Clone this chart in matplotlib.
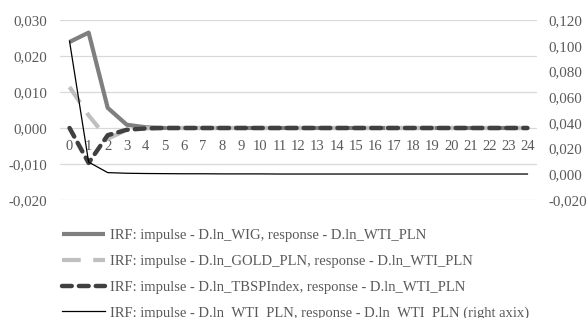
import numpy as np
import matplotlib
matplotlib.use('Agg')
import matplotlib.pyplot as plt
from matplotlib.ticker import FuncFormatter, MultipleLocator

plt.rcParams['font.family'] = ['Liberation Serif', 'DejaVu Serif']

# dane
periods = list(range(25))
irf_wig = [0.0239, 0.0265, 0.0056, 0.0009, 0.0002] + [0.0] * 20
irf_gold = [0.0114, 0.0035, -0.0030, -0.0005, -0.0001] + [0.0] * 20
irf_tbsp = [0.0, -0.0097, -0.0020, -0.0005, -0.0001] + [0.0] * 20
irf_wti = [0.1035, 0.0095, 0.0013, 0.0008, 0.0006, 0.0005, 0.0004, 0.0004,
           0.0003, 0.0003, 0.0003, 0.0002, 0.0002, 0.0002, 0.0002, 0.0002,
           0.0002, 0.0002, 0.0002, 0.0002, 0.0002, 0.0002, 0.0002, 0.0002, 0.0002]

labels = ['IRF: impulse - D.ln_WIG, response - D.ln_WTI_PLN',
          'IRF: impulse - D.ln_GOLD_PLN, response - D.ln_WTI_PLN',
          'IRF: impulse - D.ln_TBSPIndex, response - D.ln_WTI_PLN',
          'IRF: impulse - D.ln_WTI_PLN, response - D.ln_WTI_PLN (right axix)']

W, H = 588, 318
txt = '#595959'
fig = plt.figure(figsize=(W / 100, H / 100), dpi=100)
ax = fig.add_axes([60 / W, 1 - 200 / H, 477 / W, 180 / H])
ax2 = ax.twinx()

comma = FuncFormatter(lambda v, p: f'{v:.3f}'.replace('.', ','))

l1, = ax.plot(periods, irf_wig, color='#7f7f7f', lw=3, solid_capstyle='butt', zorder=3)
l2, = ax.plot(periods, irf_gold, color='#bfbfbf', lw=3, dashes=(4.5, 3), zorder=3)
l3, = ax.plot(periods, irf_tbsp, color='#404040', lw=3.2, dashes=(2.2, 1.6),
              dash_capstyle='round', zorder=4)
l4, = ax2.plot(periods, irf_wti, color='black', lw=0.9)

ax.set_xlim(-0.5, 24.5)
ax.set_ylim(-0.02, 0.03)
ax.yaxis.set_major_locator(MultipleLocator(0.01))
ax.yaxis.set_major_formatter(comma)
ax.grid(axis='y', color='#d9d9d9', lw=0.9)
ax.set_axisbelow(True)
ax.set_xticks(periods)
ax.spines['bottom'].set_position(('data', 0))
for s in ax.spines.values():
    s.set_visible(False)
ax.tick_params(axis='x', length=0, pad=9, labelsize=10.5, labelcolor=txt)
ax.tick_params(axis='y', length=0, pad=9, labelsize=10.8, labelcolor=txt)

ax2.set_ylim(-0.02, 0.12)
ax2.yaxis.set_major_locator(MultipleLocator(0.02))
ax2.yaxis.set_major_formatter(comma)
for s in ax2.spines.values():
    s.set_visible(False)
ax2.tick_params(axis='y', length=0, pad=8, labelsize=10.8, labelcolor=txt)

leg = fig.legend([l1, l2, l3, l4], labels, loc='upper left',
                 bbox_to_anchor=(54.7 / W, 1 - 222 / H), frameon=False,
                 fontsize=10.5, handlelength=2.95, handletextpad=0.34,
                 labelspacing=0.85, borderpad=0, labelcolor=txt)

fig.savefig('out.png', dpi=100)
